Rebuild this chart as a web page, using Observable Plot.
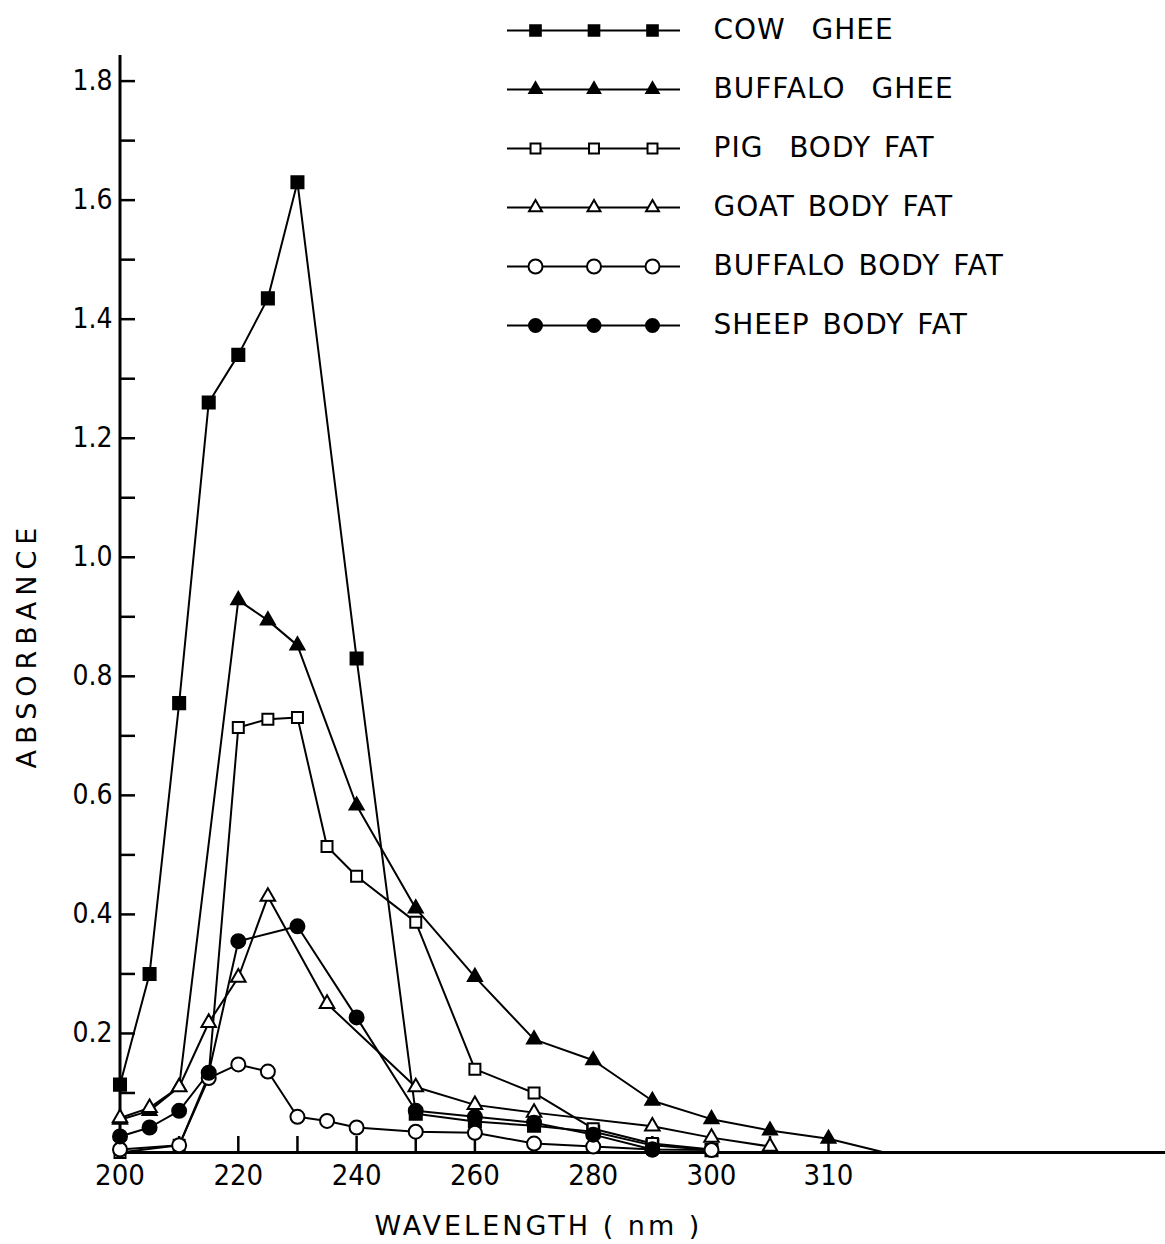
<!DOCTYPE html>
<html><head><meta charset="utf-8">
<script src="https://cdn.jsdelivr.net/npm/d3@7"></script>
<script src="https://cdn.jsdelivr.net/npm/@observablehq/plot@0.6"></script>
<style>
body{margin:0;background:#fff;}
#wrap{position:relative;width:1165px;height:1244px;overflow:hidden;}
#legend{position:absolute;left:490px;top:0;}
#chart svg g[aria-label="tick"] text, #chart svg g[aria-label*="axis"] text{font-stretch:condensed;}
#legend svg text{white-space:pre;}
</style></head><body><div id="wrap"><div id="chart"></div><div id="legend"></div></div>
<script>
// ---- data ----
const seriesNames = ["COW  GHEE", "BUFFALO  GHEE", "PIG  BODY FAT", "GOAT BODY FAT", "BUFFALO BODY FAT", "SHEEP BODY FAT"];

const cowGheeWl  = [200, 205, 210, 215, 220, 225, 230, 240, 250, 260, 270, 280, 290, 300];
const cowGheeAbs = [0.114, 0.30, 0.755, 1.26, 1.34, 1.435, 1.63, 0.83, 0.065, 0.052, 0.045, 0.035, 0.012, 0.004];

const buffaloGheeWl  = [200, 205, 210, 220, 225, 230, 240, 250, 260, 270, 280, 290, 300, 305, 310];
const buffaloGheeAbs = [0.055, 0.07, 0.11, 0.928, 0.894, 0.852, 0.583, 0.41, 0.295, 0.19, 0.155, 0.087, 0.056, 0.037, 0.023];
const buffaloGheeTailWl  = [310, 315];
const buffaloGheeTailAbs = [0.023, 0.0];

const pigFatWl  = [200, 210, 215, 220, 225, 230, 235, 240, 250, 260, 270, 280, 290, 300];
const pigFatAbs = [0.0, 0.012, 0.13, 0.714, 0.728, 0.731, 0.514, 0.464, 0.387, 0.14, 0.1, 0.04, 0.015, 0.005];

const goatFatWl  = [200, 205, 210, 215, 220, 225, 235, 250, 260, 270, 290, 300, 305];
const goatFatAbs = [0.058, 0.075, 0.11, 0.218, 0.294, 0.43, 0.25, 0.11, 0.08, 0.067, 0.044, 0.025, 0.01];

const buffaloFatWl  = [200, 210, 215, 220, 225, 230, 235, 240, 250, 260, 270, 280, 290, 300];
const buffaloFatAbs = [0.005, 0.012, 0.125, 0.148, 0.136, 0.06, 0.053, 0.042, 0.035, 0.033, 0.015, 0.01, 0.005, 0.004];

const sheepFatWl  = [200, 205, 210, 215, 220, 230, 240, 250, 260, 270, 280, 290];
const sheepFatAbs = [0.027, 0.042, 0.07, 0.134, 0.355, 0.38, 0.227, 0.07, 0.06, 0.05, 0.03, 0.005];

const xTickLabels = [200, 220, 240, 260, 280, 300, 310];
const xTickMarks  = [210, 220, 230, 240, 250, 260, 270, 280, 290, 300, 305, 310];
const yTickLabels = [0.2, 0.4, 0.6, 0.8, 1.0, 1.2, 1.4, 1.6, 1.8];
const yTickMarks  = [0.1, 0.2, 0.3, 0.4, 0.5, 0.6, 0.7, 0.8, 0.9, 1.0, 1.1, 1.2, 1.3, 1.4, 1.5, 1.6, 1.7, 1.8];
const xTitle = "WAVELENGTH ( nm )";
const yTitle = "ABSORBANCE";

// ---- build tables ----
const seriesData = [
  [cowGheeWl, cowGheeAbs], [buffaloGheeWl, buffaloGheeAbs], [pigFatWl, pigFatAbs],
  [goatFatWl, goatFatAbs], [buffaloFatWl, buffaloFatAbs], [sheepFatWl, sheepFatAbs]
];
const rows = seriesData.flatMap(([wl, ab], s) => wl.map((w, i) => ({series: seriesNames[s], wl: w, abs: ab[i]})));
const tailRows = buffaloGheeTailWl.map((w, i) => ({series: seriesNames[1], wl: w, abs: buffaloGheeTailAbs[i]}));

const markerStyle = [
  {symbol: "square", fill: "black", r: 6.8, lr: 6},
  {symbol: "triangle", fill: "black", r: 5.2, lr: 4.6},
  {symbol: "square", fill: "white", r: 6.2, lr: 5.6},
  {symbol: "triangle", fill: "white", r: 5.4, lr: 4.8},
  {symbol: "circle", fill: "white", r: 7, lr: 7},
  {symbol: "circle", fill: "black", r: 7, lr: 6.5}
];

const W = 1165, H = 1244;
const mL = 119, mR = 0, mT = 55, mB = 92;
const pxPerNm = 5.915;
const x300 = mL + 0.5 + 100 * pxPerNm;
const xRange = [mL + 0.5, x300, x300 + 117, W];
const fontFam = "'DejaVu Sans Condensed', 'DejaVu Sans', sans-serif";
const titleFam = "'DejaVu Sans', sans-serif";

const frameW = W - mL - mR, frameH = H - mT - mB;

const marks = [
  Plot.line(rows, {x: "wl", y: "abs", z: "series", stroke: "black", strokeWidth: 2}),
  Plot.line(tailRows, {x: "wl", y: "abs", stroke: "black", strokeWidth: 2}),
  Plot.ruleY([0], {stroke: "black", strokeWidth: 3}),
  Plot.ruleX([200], {stroke: "black", strokeWidth: 3}),
  Plot.tickY(yTickMarks, {y: d => d, stroke: "black", strokeWidth: 2.5, insetRight: frameW - 16}),
  Plot.tickX(xTickMarks, {x: d => d, stroke: "black", strokeWidth: 2.5, insetTop: frameH - 16}),
  Plot.axisY(yTickLabels, {tickSize: 0, tickPadding: 7, tickFormat: d3.format(".1f"), fontSize: 28, label: null}),
  Plot.axisX(xTickLabels, {tickSize: 0, tickPadding: 12, tickFormat: d => String(d), fontSize: 29, label: null}),
  Plot.text([xTitle], {frameAnchor: "bottom", textAnchor: "middle", dx: -104, dy: 82, fontSize: 27, fontFamily: titleFam, text: d => d, style: "letter-spacing:3px"}),
  Plot.text([yTitle], {frameAnchor: "left", textAnchor: "middle", rotate: -90, dx: -92, dy: 41, fontSize: 27, fontFamily: titleFam, text: d => d})
];
seriesNames.forEach((name, s) => {
  const st = markerStyle[s];
  marks.push(Plot.dot(rows.filter(d => d.series === name), {
    x: "wl", y: "abs", symbol: st.symbol, fill: st.fill, stroke: "black", strokeWidth: 2, r: st.r
  }));
});

const chart = Plot.plot({
  width: W, height: H,
  marginLeft: mL, marginRight: mR, marginTop: mT, marginBottom: mB,
  style: {fontFamily: fontFam, color: "black", background: "white"},
  x: {type: "linear", domain: [200, 300, 310, 340], range: xRange},
  y: {domain: [0, 1.843]},
  marks
});
document.getElementById("chart").appendChild(chart);
// letter spacing for the titles
chart.querySelectorAll("text").forEach(t => {
  if (t.textContent === xTitle) t.setAttribute("letter-spacing", "3");
  if (t.textContent === yTitle) t.setAttribute("letter-spacing", "6");
});

// ---- legend ----
const sampleIdx = [0, 1, 2];
const legendRows = d3.cross(seriesNames, sampleIdx).map(([series, k]) => ({series, k}));
const legendMarks = [
  Plot.ruleY(seriesNames, {y: d => d, stroke: "black", strokeWidth: 2}),
  Plot.axisY({anchor: "right", tickSize: 0, tickPadding: 33, fontSize: 28, textAnchor: "start", label: null})
];
seriesNames.forEach((name, s) => {
  const st = markerStyle[s];
  legendMarks.push(Plot.dot(legendRows.filter(d => d.series === name), {
    x: "k", y: "series", symbol: st.symbol, fill: st.fill, stroke: "black", strokeWidth: 2, r: st.lr
  }));
});
const legend = Plot.plot({
  width: 600, height: 360,
  marginLeft: 17, marginRight: 410, marginTop: 30, marginBottom: 35,
  style: {fontFamily: titleFam, color: "black", background: "transparent", letterSpacing: "1px", wordSpacing: "3px"},
  x: {domain: [0, 2], inset: 28, axis: null},
  y: {type: "point", domain: seriesNames, padding: 0},
  marks: legendMarks
});
document.getElementById("legend").appendChild(legend);
</script></body></html>
